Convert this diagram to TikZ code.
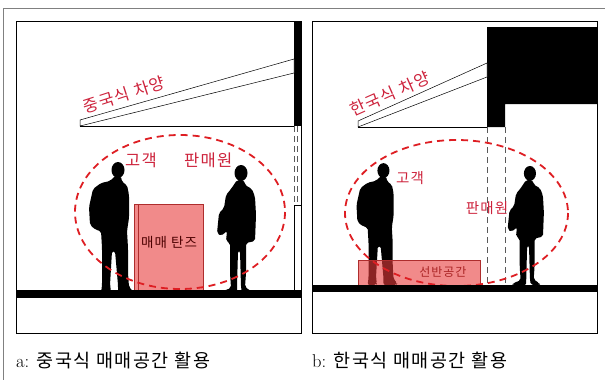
\documentclass[tikz,border=0pt]{standalone}
\usepackage{fontspec}
\newfontfamily\kr{Noto Sans CJK KR}[LetterSpace=8]
\usetikzlibrary{positioning}
\definecolor{labelred}{RGB}{205,35,60}
\definecolor{ringred}{RGB}{222,30,35}
\definecolor{standred}{RGB}{232,60,60}
\tikzset{
  panel/.style={draw=black, line width=0.9pt},
  ring/.style={draw=ringred, line width=1.8pt, dash pattern=on 7pt off 5pt},
  eave/.style={draw=black, line width=0.5pt, fill=white},
  stand/.style={fill=standred, fill opacity=0.6, draw=standred!75!black, line width=0.6pt},
  guide/.style={draw=black!65, line width=0.6pt, dash pattern=on 6pt off 4pt},
  tag/.style={text=labelred, inner sep=0pt, font=\kr\fontsize{16.5}{17}\selectfont},
  standtext/.style={text=black!70!red, inner sep=0pt, font=\kr\fontsize{13.5}{14}\selectfont},
  caption/.style={anchor=west, inner sep=0pt, font=\fontsize{18.5}{19}\selectfont},
  % people, feet at the origin
  customer/.pic={
    \fill (8,-123) ellipse [x radius=6.5, y radius=8];
    \fill[rounded corners=2pt] (5,-117) -- (11,-117) -- (12,-111) -- (17,-108)
      -- (19,-98) -- (19,-75) -- (17,-62) -- (18,-45) -- (18,-20) -- (19,-6)
      -- (23,-2) -- (22,0) -- (8,0) -- (8,-8) -- (5,-42) -- (2,-42) -- (0,-8)
      -- (1,-2) -- (0,0) -- (-9,0) -- (-8,-8) -- (-8,-45) -- (-9,-62)
      -- (-14,-63) -- (-20,-68) -- (-21,-86) -- (-17,-104) -- (-9,-110)
      -- (0,-112) -- cycle;
  },
  seller/.pic={
    \fill (1,-120) ellipse [x radius=6.5, y radius=8];
    \fill[rounded corners=2pt] (-3,-113) -- (4,-113) -- (5,-108) -- (12,-104)
      -- (15,-96) -- (16,-78) -- (15,-52) -- (6,-50) -- (6,-20) -- (5,-6)
      -- (11,-2) -- (12,0) -- (2,0) -- (1,-6) -- (0,-42) -- (-2,-42)
      -- (-3,-6) -- (-3,0) -- (-18,0) -- (-17,-2) -- (-9,-5) -- (-10,-20)
      -- (-10,-50) -- (-14,-52) -- (-13,-62) -- (-19,-57) -- (-23,-60)
      -- (-21,-80) -- (-16,-85) -- (-14,-98) -- (-9,-104) -- cycle;
  },
}

\begin{document}
\begin{tikzpicture}[x=1pt, y=-1pt]
  \useasboundingbox (0,0) rectangle (605,380);
  \draw[black!50, line width=1.2pt] (3.5,380) -- (3.5,8.5) -- (605,8.5);

  % a: chinese stall
  \draw[panel] (16,21) rectangle (301,333);
  \fill (294,21) rectangle (301,126);
  \draw[line width=0.5pt] (80,126) -- (294,126);
  \draw[eave] (80,120) -- (294,59) -- (294,73) -- (80,126) -- cycle;
  \draw[guide, line width=0.5pt] (294.5,126) -- (294.5,205);
  \draw[guide, line width=0.5pt] (297.5,126) -- (297.5,205);
  \draw[line width=0.5pt] (294.5,293) -- (294.5,205) -- (301,205);
  \node[tag, rotate=18] (eaveA) at (124,95) {중국식 차양};

  \pic at (110,293) {customer};
  \pic at (240,293) {seller};
  \draw[stand] (134,204) rectangle (203,290);
  \draw[draw=standred!75!black, line width=0.5pt] (138,205) -- (138,290);
  \node[standtext] (standA) at (169,242) {매매 탄즈};
  \draw[ring] (180,212) ellipse [x radius=105, y radius=77];
  \fill (16,290) rectangle (301,298);
  \node[tag] (buyerA) at (141,160) {고객};
  \node[tag, right=27pt of buyerA] (sellerA) {판매원};

  % b: korean stall
  \draw[panel] (312,21) rectangle (597,333);
  \fill (487,27) -- (597,27) -- (597,104) -- (505,104) -- (505,127) -- (487,127) -- cycle;
  \draw[line width=0.5pt] (358,127) -- (487,127);
  \draw[eave] (358,121) -- (487,63) -- (487,77) -- (358,127) -- cycle;
  \draw[guide] (487.5,127) -- (487.5,285);
  \draw[guide] (505,127) -- (505,285);
  \node[tag, rotate=24] (eaveB) at (390,94) {한국식 차양};

  \pic[scale=0.93] at (376,285) {customer};
  \pic[scale=0.93] at (529,285) {seller};
  \node[standtext, font=\kr\fontsize{12}{12}\selectfont] (standB) at (443,272) {선반공간};
  \draw[stand] (358,260) rectangle (480,285);
  \draw[ring] (456.5,213) ellipse [x radius=111.5, y radius=73];
  \fill (312,285) rectangle (597,292);
  \node[tag, font=\kr\fontsize{14.5}{15}\selectfont] (buyerB) at (410,178) {고객};
  \node[tag, font=\kr\fontsize{14.5}{15}\selectfont] (sellerB) at (487,208) {판매원};

  % captions
  \node[caption] (capA) at (16,360) {a: {\kr 중국식 매매공간 활용}};
  \node[caption] (capB) at (312,360) {b: {\kr 한국식 매매공간 활용}};
\end{tikzpicture}
\end{document}
